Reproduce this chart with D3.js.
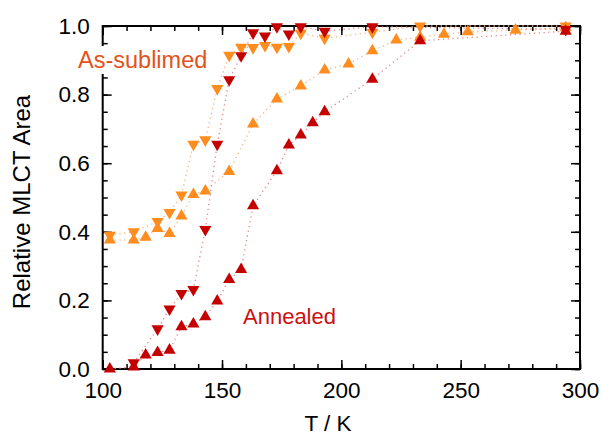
<!DOCTYPE html>
<html>
  <head>
    <meta charset="utf-8" />
    <script src="https://d3js.org/d3.v7.min.js"></script>
    <style>
      body { margin: 0; background: #fff; }
      text { font-family: "Liberation Sans", Arial, sans-serif; }
      .frame { fill: none; stroke: #000; stroke-width: 2px; }
      .tick line { stroke: #000; stroke-width: 1.5px; }
    </style>
  </head>
  <body>

    <svg id="chart" width="603" height="437"></svg>

    <script>

      // temperatures (K) and relative MLCT area for each run
      var subDownT = [103, 113, 123, 128, 133, 138, 143, 148, 153, 158, 163, 168, 173, 178, 183, 193, 213, 233, 294];
      var subDownV = [0.39, 0.40, 0.43, 0.456, 0.507, 0.655, 0.668, 0.818, 0.915, 0.938, 0.937, 0.943, 0.938, 0.94, 0.979, 0.964, 0.982, 1.0, 1.0];

      var subUpT = [103, 113, 118, 123, 128, 133, 138, 143, 153, 163, 173, 183, 193, 203, 213, 223, 233, 243, 253, 273, 294];
      var subUpV = [0.376, 0.376, 0.384, 0.41, 0.395, 0.446, 0.509, 0.519, 0.576, 0.714, 0.787, 0.825, 0.872, 0.889, 0.928, 0.959, 0.967, 0.976, 0.983, 0.988, 0.995];

      var annDownT = [113, 123, 128, 133, 138, 143, 148, 153, 158, 163, 168, 173, 178, 183, 193, 213, 294];
      var annDownV = [0.018, 0.117, 0.175, 0.22, 0.232, 0.407, 0.655, 0.843, 0.913, 0.98, 0.971, 0.998, 0.977, 0.998, 0.985, 0.998, 0.99];

      var annUpT = [103, 113, 118, 123, 128, 133, 138, 143, 148, 153, 158, 163, 173, 178, 183, 188, 193, 213, 233, 294];
      var annUpV = [0.0, 0.006, 0.041, 0.048, 0.055, 0.123, 0.131, 0.152, 0.198, 0.261, 0.29, 0.476, 0.578, 0.653, 0.682, 0.718, 0.75, 0.845, 0.957, 0.985];

      var xTicks = [100, 150, 200, 250, 300];
      var yTicks = [0.0, 0.2, 0.4, 0.6, 0.8, 1.0];

      var orange = "#ff8c1e", orangeLine = "#f7b584";
      var red = "#c40000", redLine = "#e58a8a";

      var svg = d3.select("#chart");
      var mLeft = 102.7, mRight = 580, mTop = 26, mBottom = 369;

      var x = d3.scaleLinear().domain([100, 300]).range([mLeft, mRight]);
      var y = d3.scaleLinear().domain([0, 1]).range([mBottom, mTop]);

      function drawTicks(g, axis) {
        g.call(axis);
        g.select(".domain").remove();
        g.selectAll("text").attr("font-size", 22.5).attr("fill", "#000");
      }

      var xMinor = d3.range(100, 301, 10);
      var yMinor = d3.range(0, 1.0001, 0.05);

      // minor ticks, inward on all four sides
      drawTicks(svg.append("g").attr("transform", "translate(0," + mBottom + ")"),
        d3.axisBottom(x).tickValues(xMinor).tickSize(-5).tickFormat(""));
      drawTicks(svg.append("g").attr("transform", "translate(0," + mTop + ")"),
        d3.axisTop(x).tickValues(xMinor).tickSize(-5).tickFormat(""));
      drawTicks(svg.append("g").attr("transform", "translate(" + mLeft + ",0)"),
        d3.axisLeft(y).tickValues(yMinor).tickSize(-5).tickFormat(""));
      drawTicks(svg.append("g").attr("transform", "translate(" + mRight + ",0)"),
        d3.axisRight(y).tickValues(yMinor).tickSize(-5).tickFormat(""));

      // majors with labels
      drawTicks(svg.append("g").attr("transform", "translate(0," + mBottom + ")"),
        d3.axisBottom(x).tickValues(xTicks).tickSize(-9).tickPadding(13).tickFormat(d3.format("d")));
      drawTicks(svg.append("g").attr("transform", "translate(0," + mTop + ")"),
        d3.axisTop(x).tickValues(xTicks).tickSize(-9).tickFormat(""));
      drawTicks(svg.append("g").attr("transform", "translate(" + mLeft + ",0)"),
        d3.axisLeft(y).tickValues(yTicks).tickSize(-9).tickPadding(13).tickFormat(d3.format(".1f")));
      drawTicks(svg.append("g").attr("transform", "translate(" + mRight + ",0)"),
        d3.axisRight(y).tickValues(yTicks).tickSize(-9).tickFormat(""));

      svg.append("rect").attr("class", "frame")
        .attr("x", mLeft).attr("y", mTop)
        .attr("width", mRight - mLeft).attr("height", mBottom - mTop);

      // dotted guide lines
      var line = d3.line().x(function(d) { return x(d[0]); }).y(function(d) { return y(d[1]); });
      var series = [
        { t: subDownT, v: subDownV, col: orange, lc: orangeLine, down: true },
        { t: subUpT, v: subUpV, col: orange, lc: orangeLine, down: false },
        { t: annDownT, v: annDownV, col: red, lc: redLine, down: true },
        { t: annUpT, v: annUpV, col: red, lc: redLine, down: false }
      ];

      series.forEach(function(s) {
        svg.append("path")
          .attr("d", line(d3.zip(s.t, s.v)))
          .attr("fill", "none")
          .attr("stroke", s.lc)
          .attr("stroke-width", 1.3)
          .attr("stroke-dasharray", "1.3,3.5");
      });

      // the label box sits over the axis line but under the markers
      svg.append("rect")
        .attr("x", 76).attr("y", 46)
        .attr("width", 134).attr("height", 28)
        .attr("fill", "#fff");

      var tri = d3.symbol().type(d3.symbolTriangle).size(64);
      series.forEach(function(s) {
        svg.append("g").selectAll("path")
          .data(d3.zip(s.t, s.v))
          .enter().append("path")
          .attr("d", tri)
          .attr("fill", s.col)
          .attr("transform", function(d) {
            return "translate(" + x(d[0]) + "," + y(d[1]) + ")" + (s.down ? " rotate(180)" : "");
          });
      });

      // labels
      svg.append("text")
        .attr("x", 78).attr("y", 68)
        .attr("font-size", 23.5)
        .attr("fill", "#e2531c")
        .text("As-sublimed");

      svg.append("text")
        .attr("x", 243).attr("y", 324)
        .attr("font-size", 22)
        .attr("fill", "#cc1010")
        .text("Annealed");

      svg.append("text")
        .attr("x", 328).attr("y", 431)
        .attr("text-anchor", "middle")
        .attr("font-size", 22.5)
        .text("T / K");

      svg.append("text")
        .attr("transform", "translate(30,202) rotate(-90)")
        .attr("text-anchor", "middle")
        .attr("font-size", 24)
        .text("Relative MLCT Area");

    </script>

  </body>
</html>
